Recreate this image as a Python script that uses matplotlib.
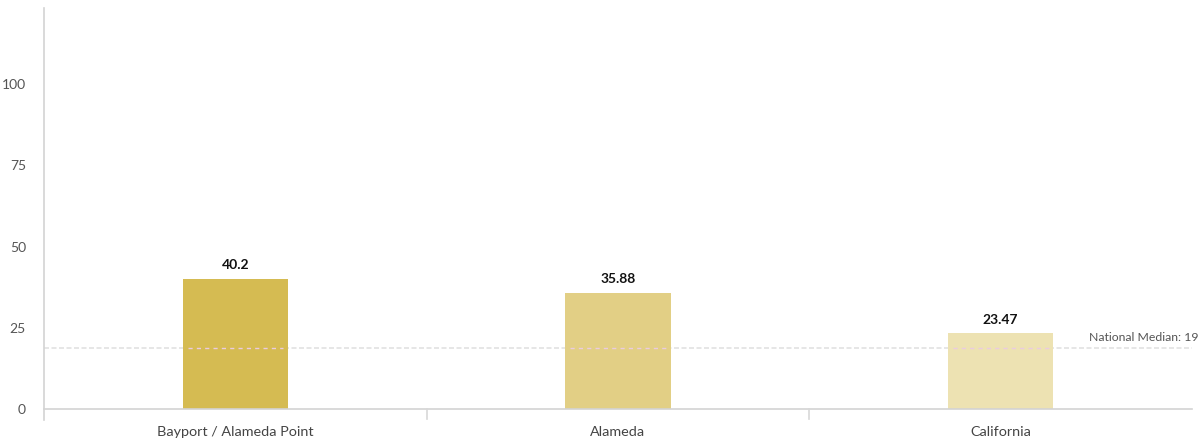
import matplotlib
matplotlib.use("Agg")
import matplotlib.pyplot as plt
from matplotlib.lines import Line2D

categories = ["Bayport / Alameda Point", "Alameda", "California"]
values = [40.2, 35.88, 23.47]
value_labels = ["40.2", "35.88", "23.47"]
bar_colors = ["#d5bb52", "#e2cf85", "#ede2b2"]
national_median = 19
median_label = "National Median: 19"
y_ticks = [0, 25, 50, 75, 100]

plt.rcParams["font.family"] = ["Lato", "DejaVu Sans"]

fig = plt.figure(figsize=(12.01, 4.41), dpi=100)
ax = fig.add_axes([44 / 1201, (441 - 409.3) / 441, (1192 - 44) / 1201, (409.3 - 8) / 441])

x = list(range(len(categories)))
ax.bar(x, values, width=0.275, color=bar_colors, zorder=2)

for xi, v, lab in zip(x, values, value_labels):
    ax.text(xi, v + 2.2, lab, ha="center", va="bottom", fontsize=10,
            fontweight="bold", color="#111111")

# national median reference line
ax.axhline(national_median, color="#e2e2e2", lw=1.2, ls=(0, (3, 1.5)), zorder=1)
for xi in x:
    ax.plot([xi - 0.125, xi + 0.125], [national_median, national_median],
            color="#eacbe0", lw=1.0, ls=(0, (3, 3)), zorder=3)
ax.text(2.23, national_median + 1.3, median_label, ha="left", va="bottom",
        fontsize=8.8, color="#555555")

ax.set_xlim(-0.5, 2.5)
ax.set_ylim(0, 123.4)

for s in ["top", "right", "left", "bottom"]:
    ax.spines[s].set_visible(False)

# axis lines
ax.add_line(Line2D([0, 0], [-0.027, 1.0], transform=ax.transAxes, color="#d3d3d3",
                   lw=1.2, clip_on=False))
ax.add_line(Line2D([0, 1], [0, 0], transform=ax.transAxes, color="#d3d3d3",
                   lw=1.2, clip_on=False))
for b in [0.5, 1.5]:
    ax.plot([b, b], [0, -3], color="#d8d8d8", lw=1.2, clip_on=False)

ax.set_yticks(y_ticks)
ax.set_yticklabels([str(t) for t in y_ticks])
ax.tick_params(axis="y", length=0, pad=13, labelsize=10, labelcolor="#555555")
ax.set_xticks(x)
ax.set_xticklabels(categories)
ax.tick_params(axis="x", length=0, pad=12, labelsize=10.4, labelcolor="#444444")

fig.savefig("out.png", dpi=100, facecolor="white")
